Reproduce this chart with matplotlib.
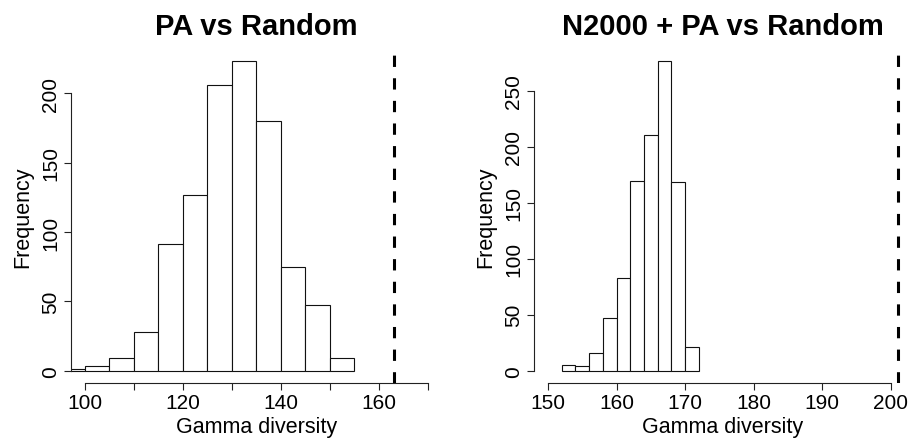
import numpy as np
import matplotlib
matplotlib.use("Agg")
from matplotlib import pyplot as plt

# histogram data
pa_edges = [95, 100, 105, 110, 115, 120, 125, 130, 135, 140, 145, 150, 155]
pa_counts = [1, 3, 9, 28, 91, 127, 206, 223, 180, 75, 47, 9]
pa_obs = 163

n2k_edges = [152, 154, 156, 158, 160, 162, 164, 166, 168, 170, 172]
n2k_counts = [5, 4, 16, 47, 83, 169, 210, 276, 168, 21]
n2k_obs = 201

plt.rcParams['font.family'] = ['Liberation Sans', 'DejaVu Sans']

W, H = 911, 439
fig = plt.figure(figsize=(W / 100, H / 100), dpi=100)


def panel(rect, edges, counts, obs, title, xlim, xticks, xlabels, yticks):
    l, r, b, t = rect
    ax = fig.add_axes([l / W, 1 - b / H, (r - l) / W, (b - t) / H])
    edges = np.array(edges)
    ax.bar(edges[:-1], counts, width=np.diff(edges), align='edge',
           color='white', edgecolor='#111111', linewidth=0.8)
    ax.axvline(obs, color='black', lw=2.2, linestyle=(0, (3.7, 3.7)))
    ymax = max(counts)
    dx = (xlim[1] - xlim[0]) * 0.04
    ax.set_xlim(xlim[0] - dx, xlim[1] + dx)
    ax.set_ylim(-ymax * 0.04, ymax * 1.04)
    for s in ['top', 'right']:
        ax.spines[s].set_visible(False)
    ax.spines['left'].set_bounds(yticks[0], yticks[-1])
    ax.spines['bottom'].set_bounds(xticks[0], xticks[-1])
    for s in ['left', 'bottom']:
        ax.spines[s].set_linewidth(0.8)
        ax.spines[s].set_color('#222222')
    ax.set_xticks(xticks)
    ax.set_xticklabels(xlabels)
    ax.set_yticks(yticks)
    ax.tick_params(axis='both', length=5, width=0.8, color='#222222', labelsize=15)
    ax.tick_params(axis='x', pad=2)
    ax.tick_params(axis='y', pad=3, labelrotation=90)
    for lab in ax.get_yticklabels():
        lab.set_va('center')
    ax.set_title(title, fontsize=21, fontweight='bold', pad=10.8)
    ax.set_xlabel('Gamma diversity', fontsize=15.5)
    ax.xaxis.set_label_coords(0.5, -(433 - b) / (b - t))
    ax.xaxis.label.set_va('baseline')
    ax.set_ylabel('Frequency', fontsize=15.5)
    ax.yaxis.set_label_coords(-48 / (r - l), 0.5)
    ax.yaxis.label.set_va('center')
    return ax


panel((71, 441.7, 384, 50), pa_edges, pa_counts, pa_obs, 'PA vs Random',
      (100, 170), [100, 110, 120, 130, 140, 150, 160, 170],
      ['100', '', '120', '', '140', '', '160', ''],
      [0, 50, 100, 150, 200])

panel((534, 911.5, 384, 50), n2k_edges, n2k_counts, n2k_obs, 'N2000 + PA vs Random',
      (150, 201), [150, 160, 170, 180, 190, 200],
      ['150', '160', '170', '180', '190', '200'],
      [0, 50, 100, 150, 200, 250])

fig.savefig('out.png', dpi=100)
